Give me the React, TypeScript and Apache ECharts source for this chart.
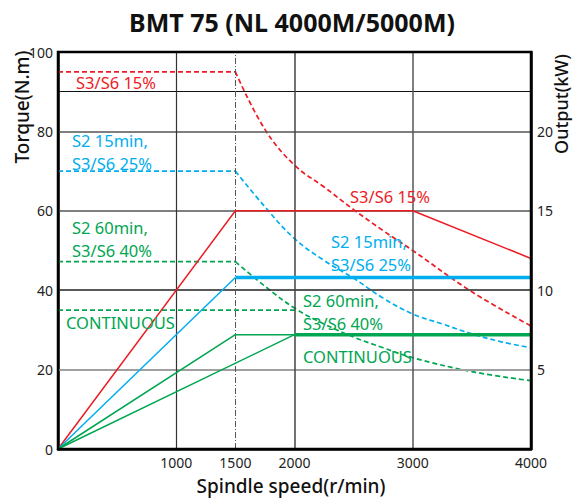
import React, { useEffect, useRef } from "react";
import * as echarts from "echarts";

// ---- Data ----
const speedTickLabels = [1000, 1500, 2000, 3000, 4000];
const torqueGridValues = [20, 40, 60, 80, 90];
const speedGridValues = [1000, 2000, 3000];
const ratedSpeed = 1500;

// Torque curves (N.m) vs speed (r/min) - dashed
const torqueS3S6_15: [number, number][] = [
  [0, 95], [1500, 95], [1750, 80.5], [2000, 71.5], [2250, 66], [2500, 60.3],
  [2750, 55], [3000, 50], [3500, 39.6], [4000, 31],
];
const torqueS2_15min: [number, number][] = [
  [0, 70], [1500, 70], [1750, 61], [2000, 53], [2250, 47.5], [2500, 43],
  [2750, 38], [3000, 34], [3250, 31.5], [3500, 29], [3750, 27], [4000, 25.5],
];
const torqueS2_60min: [number, number][] = [
  [0, 47.2], [1500, 47.2], [1750, 41], [2000, 35.5], [2250, 31.5], [2500, 28.2],
  [2750, 25.5], [3000, 23], [3500, 19.5], [4000, 17.2],
];
const torqueContinuous: [number, number][] = [[0, 35], [2000, 35]];

// Output curves (kW) vs speed - solid
const outputS3S6_15: [number, number][] = [[0, 0], [1500, 15], [3000, 15], [4000, 12]];
const outputS2_15minRise: [number, number][] = [[0, 0], [1500, 10.8]];
const outputS2_15minFlat: [number, number][] = [[1500, 10.8], [4000, 10.8]];
const outputS2_60minRise: [number, number][] = [[0, 0], [1500, 7.2], [2000, 7.2]];
const outputContinuousRise: [number, number][] = [[0, 0], [2000, 7.2]];
const outputFlat: [number, number][] = [[2000, 7.2], [4000, 7.2]];

const RED = "#ed1c24";
const BLUE = "#00aeef";
const GREEN = "#00a651";
const FONT = '"Noto Sans", "DejaVu Sans", sans-serif';

export default function App() {
  const ref = useRef<HTMLDivElement>(null);
  useEffect(() => {
    if (!ref.current) return;
    const chart = echarts.init(ref.current, undefined, { renderer: "svg" });

    const dashedBase = (color: string) => ({
      type: "line",
      yAxisIndex: 0,
      symbol: "none",
      z: 4,
      lineStyle: { color, width: 1.7, type: [5, 3] },
    });
    const dashedParts = (data: [number, number][], color: string) => {
      const flat = data.filter((p) => p[0] <= ratedSpeed);
      const curve = data.filter((p) => p[0] >= ratedSpeed);
      return [
        { ...dashedBase(color), data: flat },
        { ...dashedBase(color), data: curve, smooth: 0.4 },
      ];
    };
    const solid = (data: [number, number][], color: string, width: number) => ({
      type: "line",
      yAxisIndex: 1,
      data,
      symbol: "none",
      z: 5,
      lineStyle: { color, width, type: "solid" },
    });

    const gridStyles: Record<number, any> = {
      20: { color: "#a0a0a0", width: 2 },
      40: { color: "#222", width: 1.5 },
      60: { color: "#555", width: 1.5 },
      80: { color: "#555", width: 1.5 },
      90: { color: "#111", width: 1.2 },
    };
    const vStyles: Record<number, any> = {
      1000: { color: "#333", width: 1.2 },
      2000: { color: "#444", width: 1.5 },
      3000: { color: "#555", width: 1.5 },
    };

    const text = (
      t: string, x: number, y: number, color: string, size = 16.5, align = "left",
      weight: any = "normal", rotation = 0
    ) => ({
      type: "text",
      x,
      y,
      rotation,
      z: 10,
      style: {
        text: t,
        fill: color,
        fontSize: size,
        fontFamily: FONT,
        fontWeight: weight,
        lineHeight: 23,
        textAlign: align,
        textVerticalAlign: "middle",
      },
    });

    const option: any = {
      animation: false,
      grid: {
        left: 58, right: 43, top: 52, bottom: 49,
        show: true, borderColor: "#000", borderWidth: 2.5, z: 8,
      },
      xAxis: {
        type: "value",
        min: 0,
        max: 4000,
        interval: 500,
        axisLine: { show: true, lineStyle: { color: "#000", width: 2.5 } },
        axisTick: { show: false },
        splitLine: { show: false },
        axisLabel: {
          formatter: (v: number) => (speedTickLabels.includes(v) ? String(v) : ""),
          fontSize: 14, color: "#222", margin: 6, fontFamily: FONT,
        },
      },
      yAxis: [
        {
          type: "value", min: 0, max: 100, interval: 20,
          axisLine: { show: true, lineStyle: { color: "#000", width: 2.5 } },
          axisTick: { show: false },
          splitLine: { show: false },
          axisLabel: { fontSize: 14, color: "#222", margin: 5, fontFamily: FONT },
        },
        {
          type: "value", min: 0, max: 25, interval: 5, position: "right",
          axisLine: { show: true, lineStyle: { color: "#000", width: 2.5 } },
          axisTick: { show: false },
          splitLine: { show: false },
          axisLabel: {
            formatter: (v: number) => (v === 0 || v === 25 ? "" : String(v)),
            fontSize: 14, color: "#222", margin: 6, fontFamily: FONT,
          },
        },
      ],
      series: [
        {
          type: "line",
          yAxisIndex: 0,
          data: [[0, 0]],
          symbol: "none",
          lineStyle: { width: 0 },
          z: 1,
          markLine: {
            silent: true,
            symbol: ["none", "none"],
            label: { show: false },
            lineStyle: { type: "solid" },
            data: [
              ...torqueGridValues.map((v) => ({ yAxis: v, lineStyle: { type: "solid", ...gridStyles[v] } })),
              ...speedGridValues.map((v) => ({ xAxis: v, lineStyle: { type: "solid", ...vStyles[v] } })),
              { xAxis: ratedSpeed, lineStyle: { color: "#555", width: 1, type: [6, 2, 1, 2] } },
            ],
          },
        },
        ...dashedParts(torqueS3S6_15, RED),
        ...dashedParts(torqueS2_15min, BLUE),
        ...dashedParts(torqueS2_60min, GREEN),
        { ...dashedBase(GREEN), data: torqueContinuous },
        solid(outputS3S6_15, RED, 1.5),
        solid(outputS2_15minRise, BLUE, 1.5),
        solid(outputS2_15minFlat, BLUE, 3.5),
        solid(outputS2_60minRise, GREEN, 1.5),
        solid(outputContinuousRise, GREEN, 1.5),
        solid(outputFlat, GREEN, 3.5),
      ],
      graphic: [
        text("BMT 75 (NL 4000M/5000M)", 292, 22, "#111", 25, "center", "bold"),
        text("Torque(N.m)", 22, 107, "#111", 19, "center", 500, Math.PI / 2),
        text("Output(kW)", 561, 104, "#111", 18, "center", 500, Math.PI / 2),
        text("Spindle speed(r/min)", 291, 486, "#111", 19, "center", 500),
        // left labels
        text("S3/S6 15%", 76, 82, RED),
        text("S2 15min,\nS3/S6 25%", 72, 152, BLUE),
        text("S2 60min,\nS3/S6 40%", 72, 239, GREEN),
        text("CONTINUOUS", 66, 322, GREEN),
        // right labels
        text("S3/S6 15%", 350, 196, RED),
        text("S2 15min,\nS3/S6 25%", 331, 253, BLUE),
        text("S2 60min,\nS3/S6 40%", 303, 312, GREEN),
        text("CONTINUOUS", 303, 356, GREEN),
      ],
    };
    chart.setOption(option);
    return () => chart.dispose();
  }, []);
  return (
    <div
      ref={ref}
      style={{ position: "fixed", left: 0, top: 0, width: 574, height: 498, background: "#fff" }}
    />
  );
}
